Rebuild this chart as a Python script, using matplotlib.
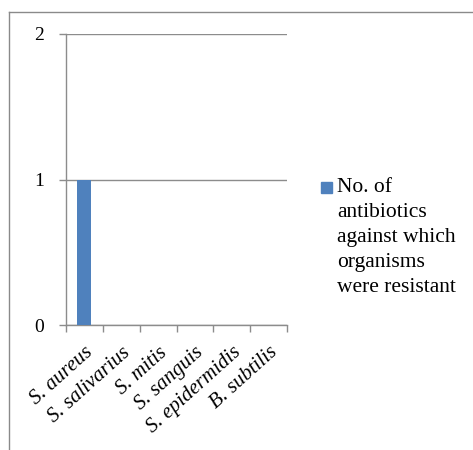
#!/usr/bin/env python3
"""Bar chart: number of antibiotics each organism was resistant to."""

import matplotlib
matplotlib.use('Agg')
import matplotlib.pyplot as plt
from matplotlib.lines import Line2D
from matplotlib.patches import Rectangle

organisms = ['S. aureus', 'S. salivarius', 'S. mitis', 'S. sanguis',
             'S. epidermidis', 'B. subtilis']
resistant_counts = [1, 0, 0, 0, 0, 0]
series_label = 'No. of\nantibiotics\nagainst which\norganisms\nwere resistant'
y_ticks = [0, 1, 2]

plt.rcParams['font.family'] = ['Liberation Serif', 'DejaVu Serif']

GRID = '#8c8c8c'
BAR = '#4f81bd'
W, H = 473, 450

fig = plt.figure(figsize=(4.73, 4.5), dpi=100)
ax = fig.add_axes([66 / W, 1 - 325 / H, (287 - 66) / W, (325 - 34) / H])

x = list(range(len(organisms)))
ax.bar(x, resistant_counts, width=0.38, color=BAR, label=series_label, zorder=3)

ax.set_xlim(-0.5, len(organisms) - 0.5)
ax.set_ylim(0, 2)
ax.set_yticks(y_ticks)
ax.set_yticklabels([str(v) for v in y_ticks], fontsize=14)
ax.grid(axis='y', color=GRID, linewidth=1, zorder=0)

ax.set_xticks(x)
ax.set_xticklabels(organisms, rotation=42, ha='right', rotation_mode='anchor',
                   fontsize=15, style='italic')
ax.set_xticks([i - 0.5 for i in range(len(organisms) + 1)], minor=True)
ax.tick_params(axis='x', which='major', length=0, pad=13)
ax.tick_params(axis='x', which='minor', length=5, color=GRID, width=1, direction='out')
ax.tick_params(axis='y', length=5, color=GRID, width=1, pad=11)

for side in ('top', 'right'):
    ax.spines[side].set_visible(False)
for side in ('left', 'bottom'):
    ax.spines[side].set_color(GRID)
    ax.spines[side].set_linewidth(1)

# legend: square marker at the top line of a wrapped label
fig.add_artist(Rectangle((321 / W, 1 - 193 / H), 11 / W, 11 / H,
                         transform=fig.transFigure, color=BAR))
fig.text(337 / W, 1 - 178 / H, series_label, fontsize=15.5, va='top', ha='left',
         linespacing=1.42)

# outer chart frame
fig.add_artist(Line2D([9 / W, 9 / W], [0, 1 - 12 / H], transform=fig.transFigure,
                      color='#8a8a8a', linewidth=1))
fig.add_artist(Line2D([9 / W, 1], [1 - 12 / H, 1 - 12 / H], transform=fig.transFigure,
                      color='#8a8a8a', linewidth=1))

fig.savefig('out.png', dpi=100)
